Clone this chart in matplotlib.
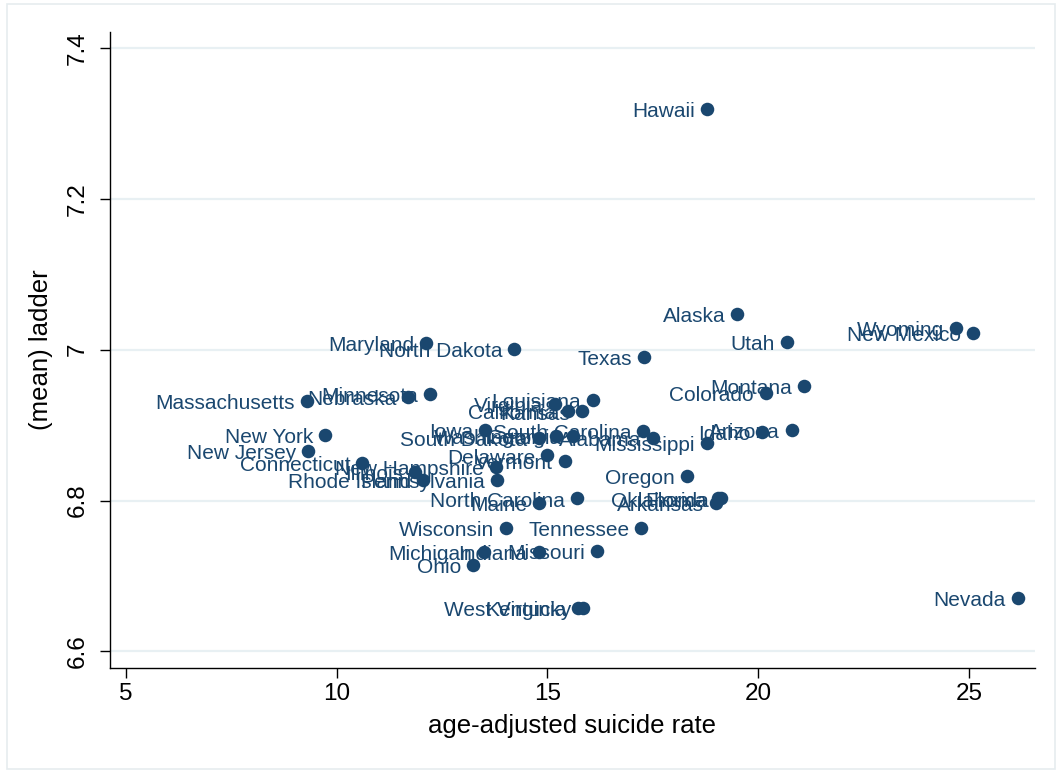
import matplotlib
matplotlib.use("Agg")
import matplotlib.pyplot as plt
from matplotlib.patches import Rectangle

states = ["Hawaii", "Alaska", "Wyoming", "New Mexico", "Utah", "Maryland",
          "North Dakota", "Texas", "Montana", "Colorado", "Massachusetts",
          "Nebraska", "Minnesota", "Virginia", "Louisiana", "California",
          "Kansas", "New York", "New Jersey", "Iowa", "South Carolina",
          "South Dakota", "Washington", "Georgia", "Alabama", "Mississippi",
          "Idaho", "Arizona", "Connecticut", "New Hampshire", "Illinois",
          "Rhode Island", "Pennsylvania", "Delaware", "Vermont", "Oregon",
          "North Carolina", "Maine", "Oklahoma", "Florida", "Arkansas",
          "Wisconsin", "Tennessee", "Michigan", "Indiana", "Missouri", "Ohio",
          "West Virginia", "Kentucky", "Nevada"]

suicide_rate = [18.78, 19.50, 24.69, 25.10, 20.68, 12.12,
                14.21, 17.29, 21.09, 20.18, 9.29,
                11.69, 12.21, 15.18, 16.08, 15.49,
                15.82, 9.72, 9.32, 13.52, 17.27,
                14.80, 15.20, 15.60, 17.50, 18.78,
                20.09, 20.80, 10.60, 13.78, 11.86,
                12.05, 13.80, 14.99, 15.42, 18.31,
                15.70, 14.80, 19.05, 19.12, 19.00,
                14.02, 17.22, 13.49, 14.80, 16.17, 13.23,
                15.72, 15.85, 26.16]

ladder = [7.319, 7.047, 7.029, 7.022, 7.010, 7.009,
          7.001, 6.990, 6.952, 6.943, 6.932,
          6.937, 6.941, 6.928, 6.933, 6.919,
          6.918, 6.887, 6.866, 6.894, 6.892,
          6.883, 6.886, 6.886, 6.883, 6.876,
          6.891, 6.894, 6.850, 6.845, 6.838,
          6.827, 6.827, 6.860, 6.853, 6.833,
          6.803, 6.797, 6.803, 6.803, 6.797,
          6.764, 6.764, 6.732, 6.732, 6.733, 6.715,
          6.658, 6.658, 6.671]

x_ticks = [5, 10, 15, 20, 25]
y_ticks = [6.6, 6.8, 7.0, 7.2, 7.4]
y_tick_labels = ["6.6", "6.8", "7", "7.2", "7.4"]

navy = "#1a476f"
plt.rcParams['font.family'] = ['Liberation Sans', 'DejaVu Sans']

W, H = 1062, 771
fig = plt.figure(figsize=(W / 100, H / 100), dpi=100)
fig.patches.append(Rectangle((7 / W, 1 - 769 / H), 1048 / W, 765 / H,
                             transform=fig.transFigure, fill=False,
                             edgecolor="#e6ecef", linewidth=1.2))
ax = fig.add_axes([110 / W, 1 - 668 / H, 925 / W, 636 / H])

ax.scatter(suicide_rate, ladder, s=95, color=navy, zorder=3, linewidths=0)
for name, xv, yv in zip(states, suicide_rate, ladder):
    ax.annotate(name, (xv, yv), xytext=(-8.5, -2.0), textcoords="offset points",
                ha="right", va="center", fontsize=15, color=navy, zorder=4)

ax.set_xlim(4.62, 26.57)
ax.set_ylim(6.578, 7.421)
ax.set_xticks(x_ticks)
ax.set_xticklabels([str(t) for t in x_ticks])
ax.set_yticks(y_ticks)
ax.set_yticklabels(y_tick_labels, rotation=90, va="center")
for yv in y_ticks:
    ax.axhline(yv, color="#e8f0f3", linewidth=1.6, zorder=1)

for s in ["top", "right"]:
    ax.spines[s].set_visible(False)
for s in ["left", "bottom"]:
    ax.spines[s].set_linewidth(1.0)
    ax.spines[s].set_color("black")
ax.tick_params(axis="both", direction="out", length=7, width=1.0,
               labelsize=17.5, colors="black")
ax.tick_params(axis="x", pad=4)
ax.tick_params(axis="y", pad=8)

ax.set_xlabel("age-adjusted suicide rate", fontsize=18.5, labelpad=6)
ax.set_ylabel("(mean) ladder", fontsize=18.5, labelpad=10)

fig.savefig("out.png", dpi=100)
